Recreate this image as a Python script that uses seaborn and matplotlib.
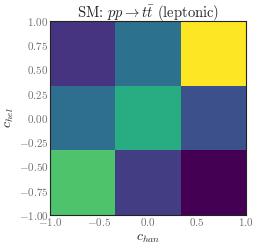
import numpy as np
import pandas as pd
import matplotlib
matplotlib.use("Agg")
import matplotlib.pyplot as plt
import seaborn as sns

# bin centres and cell contents
c_han = [-2/3, 0.0, 2/3]
c_hel = [-2/3, 0.0, 2/3]
# rows: c_hel bottom -> top, columns: c_han left -> right
weights_rows = [
    [0.135, 0.086, 0.070],
    [0.102, 0.126, 0.092],
    [0.0835, 0.104, 0.160],
]
xticks = [-1.0, -0.5, 0.0, 0.5, 1.0]
yticks = [-1.00, -0.75, -0.50, -0.25, 0.00, 0.25, 0.50, 0.75, 1.00]

rows = []
for i, yv in enumerate(c_hel):
    for j, xv in enumerate(c_han):
        rows.append({"c_han": xv, "c_hel": yv, "w": weights_rows[i][j]})
df = pd.DataFrame(rows)
wmin = min(min(r) for r in weights_rows)
wmax = max(max(r) for r in weights_rows)

sns.set_style("white")
plt.rcParams["font.family"] = ["serif"]
plt.rcParams["font.serif"] = ["cmr10", "DejaVu Serif"]
plt.rcParams["mathtext.fontset"] = "cm"
plt.rcParams["axes.formatter.use_mathtext"] = True

fig = plt.figure(figsize=(2.58, 2.49), dpi=100)
ax = fig.add_axes([0.194, 0.137, 0.760, 0.779])
sns.histplot(data=df, x="c_han", y="c_hel", weights="w", bins=3,
             binrange=((-1, 1), (-1, 1)), cmap="viridis",
             vmin=wmin, vmax=wmax, ax=ax)
ax.set_xlim(-1, 1)
ax.set_ylim(-1, 1)
ax.set_xticks(xticks)
ax.set_yticks(yticks)
ax.set_xticklabels([f"${v:.1f}$" for v in xticks])
ax.set_yticklabels([f"${v:.2f}$" for v in yticks])
ax.tick_params(labelsize=8, labelcolor="#707070", length=0, pad=1)
for s in ax.spines.values():
    s.set_color("#222222")
    s.set_linewidth(0.8)
ax.set_xlabel(r"$c_{han}$", fontsize=10, labelpad=3)
ax.set_ylabel(r"$c_{hel}$", fontsize=10, labelpad=2)
ax.set_title(r"SM: $pp \to t\bar{t}$ (leptonic)", fontsize=10.5, pad=2)
fig.savefig("out.png", dpi=100)
